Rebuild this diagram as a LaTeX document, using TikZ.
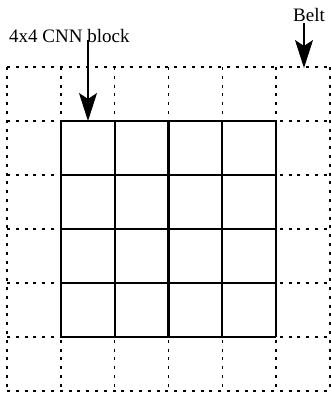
\documentclass[tikz,border=0pt]{standalone}
\usepackage{fontspec}
\setmainfont{Liberation Serif}
\usetikzlibrary{arrows.meta}
\begin{document}
\begin{tikzpicture}[x=1pt,y=-1pt,
  dotgrid/.style={line width=1.4pt, dash pattern=on 3pt off 5.8pt},
  solidgrid/.style={line width=2.4pt},
  pointer/.style={line width=1.4pt, -{Stealth[length=28pt,width=18pt,inset=6pt]}},
  lbl/.style={font=\fontsize{19}{22}\selectfont, inner sep=0pt, anchor=base west}]
\useasboundingbox (0,0) rectangle (331,399);
% dotted belt grid
\foreach \i in {0,...,6} {
  \draw[dotgrid] ({7+\i*53.8},67) -- ({7+\i*53.8},391);
  \draw[dotgrid] (7,{67+\i*54}) -- (329.5,{67+\i*54});
}
% solid 4x4 block
\fill[white] (61,121) rectangle (276,337);
\foreach \i in {0,...,4} {
  \draw[solidgrid] ({61+\i*53.75},121) -- ({61+\i*53.75},337);
  \draw[solidgrid] (61,{121+\i*54}) -- (276,{121+\i*54});
}
\node[lbl] (cnn) at (9,42) {4x4 CNN block};
\node[lbl] (belt) at (293,21) {Belt};
\coordinate (cnnS) at (88,40);
\coordinate (cnnT) at (88,121);
\coordinate (beltS) at (304,23);
\coordinate (beltT) at (304,68);
\draw[pointer] (cnnS) -- (cnnT);
\draw[pointer] (beltS) -- (beltT);
\end{tikzpicture}
\end{document}
